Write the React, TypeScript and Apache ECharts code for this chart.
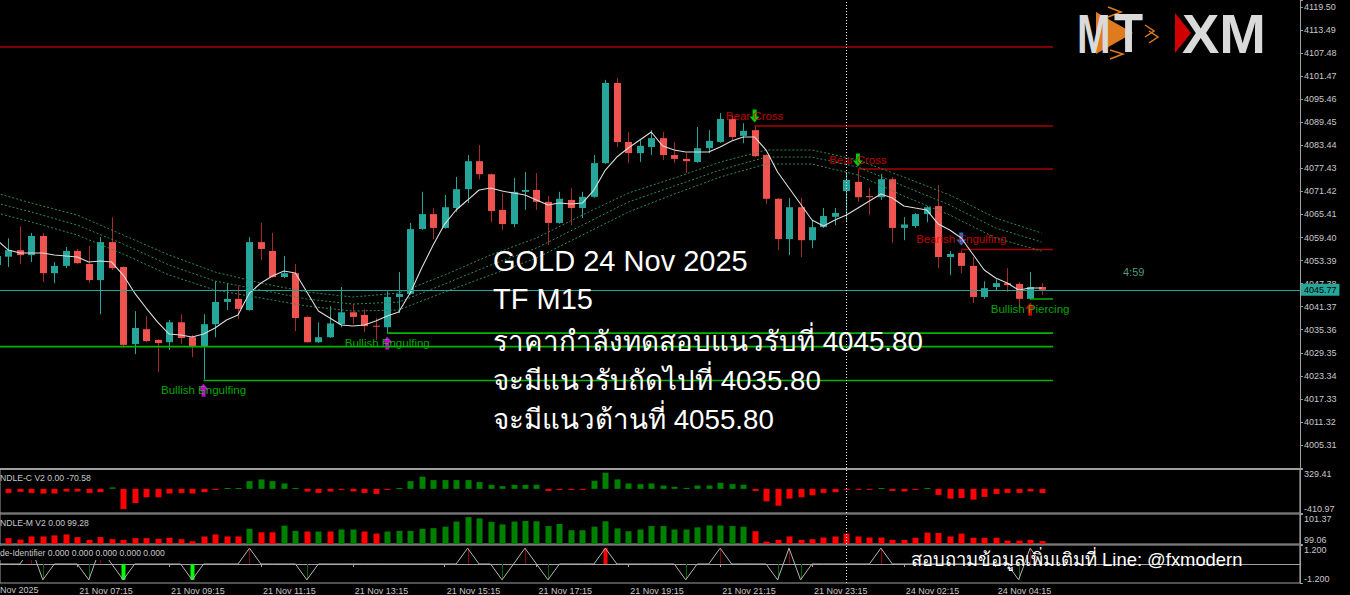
import { useEffect, useRef } from 'react';
import * as echarts from 'echarts';

// ---------------- data ----------------
// slot s = n + 2, where n = candle index (n = 6 -> 21 Nov 07:15)
const xTickN = [6, 14, 22, 30, 38, 46, 54, 62, 70, 78, 86];
const xTickText = ['21 Nov 07:15', '21 Nov 09:15', '21 Nov 11:15', '21 Nov 13:15', '21 Nov 15:15',
  '21 Nov 17:15', '21 Nov 19:15', '21 Nov 21:15', '21 Nov 23:15', '24 Nov 02:15', '24 Nov 04:15'];
const firstDateLabel = '21 Nov 2025';

// candles n = -1 .. 90
const opens = [4052.2, 4054.4, 4056.1, 4054.8, 4059.8, 4050.1, 4052.0, 4055.9, 4052.5, 4048.3, 4058.2, 4051.7, 4031.6, 4035.5, 4032.7, 4032.1, 4037.3, 4033.4, 4031.1, 4036.8, 4042.6, 4043.4, 4040.5, 4058.2, 4055.9, 4049.1, 4050.1, 4038.7, 4032.1, 4033.4, 4036.8, 4039.9, 4039.2, 4036.4, 4036.0, 4043.9, 4044.7, 4061.6, 4065.5, 4061.9, 4067.1, 4072.0, 4079.3, 4075.9, 4066.6, 4062.9, 4071.3, 4071.8, 4068.7, 4063.2, 4069.2, 4067.1, 4070.0, 4078.8, 4099.7, 4084.3, 4081.4, 4083.0, 4085.3, 4080.9, 4079.9, 4079.1, 4082.7, 4084.3, 4090.3, 4085.9, 4087.4, 4080.9, 4069.5, 4059.0, 4067.3, 4058.7, 4062.1, 4064.8, 4071.5, 4073.9, 4070.2, 4069.9, 4074.6, 4061.9, 4062.4, 4065.5, 4067.6, 4054.3, 4055.4, 4052.0, 4043.9, 4046.5, 4047.5, 4047.3, 4043.4, 4046.5];
const highs = [4056.0, 4059.2, 4062.3, 4060.6, 4060.6, 4053.0, 4056.9, 4056.4, 4057.2, 4059.5, 4064.7, 4051.9, 4040.2, 4038.9, 4032.9, 4037.9, 4039.4, 4034.0, 4039.4, 4048.0, 4047.5, 4046.7, 4059.5, 4063.2, 4060.6, 4054.6, 4052.5, 4038.9, 4037.3, 4041.5, 4046.5, 4042.0, 4040.7, 4038.4, 4045.4, 4050.4, 4063.2, 4071.3, 4067.1, 4070.5, 4075.2, 4080.9, 4083.5, 4076.1, 4071.0, 4074.9, 4076.5, 4076.2, 4070.2, 4071.3, 4072.3, 4071.3, 4080.9, 4100.5, 4101.0, 4086.9, 4084.8, 4087.4, 4086.9, 4084.3, 4081.4, 4088.2, 4087.4, 4091.9, 4091.3, 4089.2, 4088.7, 4081.1, 4069.7, 4069.7, 4069.7, 4064.0, 4067.1, 4067.1, 4076.5, 4077.2, 4072.3, 4076.0, 4075.2, 4064.7, 4065.8, 4067.6, 4073.1, 4055.9, 4056.1, 4054.3, 4048.0, 4048.5, 4051.4, 4047.8, 4050.4, 4047.5];
const lows = [4051.0, 4051.7, 4052.5, 4053.0, 4047.8, 4047.5, 4051.4, 4052.5, 4047.5, 4039.4, 4050.9, 4030.6, 4029.0, 4032.1, 4024.3, 4030.1, 4031.6, 4028.2, 4022.4, 4033.4, 4040.5, 4038.1, 4040.3, 4053.5, 4048.9, 4048.8, 4035.0, 4032.0, 4031.9, 4033.2, 4036.0, 4036.8, 4034.7, 4032.7, 4034.5, 4039.7, 4044.5, 4061.4, 4059.0, 4061.7, 4066.1, 4068.4, 4074.6, 4063.4, 4061.3, 4062.1, 4066.6, 4066.6, 4057.4, 4063.0, 4062.6, 4064.5, 4069.8, 4078.6, 4083.0, 4078.8, 4079.1, 4080.9, 4079.6, 4078.8, 4076.2, 4078.9, 4081.4, 4084.1, 4084.8, 4084.0, 4080.4, 4068.1, 4056.1, 4054.8, 4054.3, 4056.6, 4061.9, 4062.6, 4063.4, 4068.7, 4065.3, 4069.2, 4058.0, 4058.7, 4061.9, 4063.4, 4051.4, 4049.6, 4050.1, 4042.3, 4043.4, 4045.7, 4045.2, 4041.3, 4043.1, 4044.4];
const closes = [4054.6, 4056.1, 4054.8, 4059.8, 4050.1, 4052.0, 4055.9, 4052.7, 4048.3, 4058.2, 4051.4, 4031.4, 4035.8, 4032.4, 4031.9, 4037.3, 4033.2, 4031.1, 4036.8, 4042.6, 4043.4, 4040.8, 4058.2, 4056.4, 4049.1, 4050.1, 4038.4, 4032.1, 4033.4, 4037.0, 4039.9, 4038.7, 4036.3, 4036.2, 4043.9, 4044.7, 4061.6, 4065.5, 4061.9, 4067.3, 4072.0, 4079.3, 4075.9, 4066.3, 4062.9, 4071.3, 4071.8, 4068.7, 4063.2, 4069.5, 4067.1, 4070.0, 4078.8, 4099.7, 4084.3, 4081.4, 4083.3, 4085.3, 4080.9, 4079.9, 4079.3, 4082.7, 4084.6, 4090.3, 4085.6, 4087.2, 4080.6, 4069.5, 4059.0, 4067.3, 4058.7, 4062.1, 4065.0, 4065.8, 4074.4, 4069.9, 4069.9, 4074.6, 4061.9, 4062.8, 4065.5, 4067.3, 4054.3, 4055.1, 4052.0, 4043.9, 4046.2, 4047.5, 4047.0, 4043.4, 4046.5, 4045.77];

// fast MA (white) n = -2 .. 90
const maFast = [4060.05, 4058.74, 4056.13, 4055.35, 4055.35, 4055.35, 4054.83, 4054.57, 4054.31, 4053.01, 4053.27, 4053.01, 4049.62, 4044.92, 4041.01, 4037.36, 4034.23, 4033.97, 4033.45, 4034.23, 4035.80, 4037.88, 4039.19, 4044.92, 4047.53, 4049.36, 4050.66, 4050.14, 4045.18, 4040.23, 4038.40, 4036.57, 4036.32, 4036.57, 4037.62, 4038.92, 4039.97, 4044.92, 4051.44, 4057.44, 4062.91, 4066.57, 4069.17, 4071.78, 4072.30, 4071.52, 4070.99, 4070.47, 4069.17, 4067.87, 4068.39, 4068.13, 4068.39, 4071.78, 4076.99, 4080.38, 4082.73, 4084.82, 4086.91, 4083.25, 4082.21, 4081.69, 4081.69, 4081.69, 4082.99, 4084.56, 4085.60, 4085.60, 4082.21, 4076.48, 4072.30, 4068.13, 4063.96, 4062.39, 4063.96, 4065.26, 4067.08, 4068.91, 4070.73, 4069.69, 4067.61, 4067.08, 4066.56, 4062.91, 4061.35, 4059.26, 4055.09, 4050.92, 4048.83, 4047.53, 4045.70, 4046.22, 4046.22];

// dotted envelope lines, read at these candle indices
const maDotN = [-2, 2, 6, 10, 14, 18, 22, 26, 30, 34, 38, 42, 46, 50, 54, 58, 62, 66, 70, 74, 78, 82, 86, 90];
const maDotUpper = [4071.78, 4068.39, 4065.26, 4060.05, 4054.83, 4050.40, 4047.53, 4045.18, 4043.88, 4044.92, 4049.62, 4054.83, 4059.27, 4065.26, 4070.99, 4074.90, 4079.08, 4082.21, 4082.21, 4079.60, 4075.16, 4070.47, 4064.48, 4060.57];
const maDotMid = [4069.17, 4066.04, 4062.65, 4057.70, 4052.22, 4048.05, 4045.70, 4043.35, 4042.05, 4042.57, 4047.27, 4052.22, 4056.66, 4062.65, 4068.65, 4072.81, 4076.99, 4080.38, 4080.38, 4077.78, 4072.81, 4067.87, 4061.87, 4058.23];
const maDotLower = [4066.56, 4063.44, 4060.05, 4055.10, 4049.62, 4045.70, 4043.62, 4041.53, 4040.22, 4040.49, 4045.18, 4049.62, 4054.05, 4060.05, 4066.04, 4070.73, 4075.16, 4078.56, 4078.56, 4075.69, 4070.21, 4065.26, 4059.27, 4055.88];

const resistanceStartN = [-2, 65, 74, 83];
const resistancePrice = [4109.07, 4088.47, 4077.25, 4056.26];
const supportStartN = [-2, 17, 33, 89];
const supportPrice = [4030.96, 4022.10, 4034.48, 4043.35];
const levelEndN = 91;
const lastPrice = 4045.77;
const separatorN = 73;

const patternN = [17, 33, 65, 74, 83, 89];
const patternText = ['Bullish Engulfing', 'Bullish Engulfing', 'Bear Cross', 'Bear Cross', 'Bearish Engulfing', 'Bullish Piercing'];
const patternPrice = [4019.6, 4031.9, 4091.1, 4079.6, 4059.0, 4040.7];
const patternTextColor = ['#00d400', '#00d400', '#f00000', '#f00000', '#f00000', '#00d400'];
const patternArrowUp = [true, true, false, false, false, true];
const patternArrowColor = ['#ff00ff', '#ff00ff', '#00ff00', '#00ff00', '#1e90ff', '#ff0000'];

// CANDLE-C V2, n = 0 .. 90
const candleC = [-69, -50, -69, -80, -80, -45, -45, -69, -57, 25, -344, -241, -143, -143, -80, -69, -80, -57, -15, 15, 15, 132, 161, 132, 92, 15, -45, -69, -45, -15, -45, -69, -86, -15, 15, 132, 206, 149, 149, 149, 149, 115, 69, 46, 69, 69, 69, -35, -15, -15, -15, 138, 275, 161, 92, 80, 92, 57, 35, 15, 57, 57, 103, 80, 69, -35, -212, -287, -166, -143, -109, -69, -57, -15, -15, -15, 15, -35, -45, -15, 15, -103, -166, -155, -183, -137, -86, -69, -69, -45, -70.58];
// CANDLE-M V2, n = 0 .. 90
const candleM = [99.51, 99.40, 99.64, 99.64, 99.72, 99.80, 99.59, 99.38, 99.59, 99.43, 99.38, 99.51, 99.51, 99.46, 99.54, 99.43, 99.27, 99.64, 99.80, 99.64, 99.64, 100.23, 99.96, 99.96, 100.47, 100.07, 100.02, 100.02, 100.02, 100.18, 100.18, 100.02, 99.86, 100.02, 100.07, 100.07, 100.23, 100.28, 100.39, 100.79, 101.13, 101.03, 100.76, 100.57, 100.79, 100.84, 100.81, 100.44, 100.60, 100.12, 100.12, 100.39, 100.81, 100.26, 100.04, 100.18, 100.44, 100.44, 100.18, 100.18, 100.34, 100.49, 100.49, 100.44, 100.39, 100.04, 99.24, 99.38, 99.64, 99.38, 99.43, 99.56, 99.64, 99.86, 99.64, 99.56, 99.56, 99.38, 99.38, 99.54, 99.94, 99.91, 99.64, 99.86, 99.54, 99.54, 99.54, 99.32, 99.32, 99.38, 99.28];
const candleMUp = 'rrrrrrrrrrrrrrrrrrrrrgrrggrgrggrrggggggggggggggggggggggggggggggggrrrrrrrrrrrrrrrrrrrrrrrrr';
// Candle-Identifier, n = -2 .. 90
const identLine = [0, 0, 0, 0, 1, -1, 0, 0, 0, -1, 1, 0, -1, 0, 0, 0, 0, 0, -1, 0, 0, 0, 0, 1, 0, 0, 0, 0, -1, 0, 0, 0, 0, 0, 0, 0, 0, 0, 0, 0, 0, 0, 1, 0, 0, -1, 0, 1, 0, -1, 0, 0, 0, 0, 1, 0, 0, 0, 0, 0, 0, -1, 0, 0, 1, 0, 0, 0, 0, -1, 1, -1, 0, 0, 0, 0, 0, 0, 1, 0, 0, 0, 0, 0, 0, 0, 0, 0, 0, 0, -1, 1, 0];
const identStrongN = [10, 16, 52];

const YMAIN_MIN = 3999.30, YMAIN_MAX = 4121.33, YMAIN_STEP = 6.01;
const P1_MIN = -410.97, P1_MAX = 329.41;
const P2_MIN = 99.06, P2_MAX = 101.37;
const P3_MIN = -1.2, P3_MAX = 1.2;
// visible slot range (slot = n + 2)
const XMIN = 1.2683, XMAX = 114.5;

const S = (n: number) => n + 2;

const FONT = '"Liberation Sans", Arial, "Noto Sans", sans-serif';
const AXIS_TXT = '#c8c8c8';
const AXIS_LINE = '#a0a0a0';
const BULL = '#26a69a';
const BEAR = '#ef5350';
const BEAR_WICK = '#a52a2a';

export default function App() {
  const ref = useRef<HTMLDivElement>(null);
  useEffect(() => {
    if (!ref.current) return;
    const chart = echarts.init(ref.current, null, { renderer: 'svg' });

    const candleData = opens.map((o, i) => [S(i - 1), o, closes[i], lows[i], highs[i]]);
    const vSep = { xAxis: S(separatorN), lineStyle: { color: '#ffffff', type: [1, 2], width: 1 }, label: { show: false } };

    const xAxisBase = (gridIndex: number) => ({
      type: 'value', gridIndex, min: XMIN, max: XMAX,
      axisLine: { show: false }, axisTick: { show: false }, axisLabel: { show: false }, splitLine: { show: false },
    });
    const tickSlots = xTickN.map(S);

    const panelY = (gridIndex: number, min: number, max: number, dec: number) => ({
      type: 'value', gridIndex, position: 'right', min, max, interval: max - min,
      axisLine: { show: true, lineStyle: { color: AXIS_LINE } },
      axisTick: { show: true, length: 3, lineStyle: { color: AXIS_LINE } },
      splitLine: { show: false },
      axisLabel: {
        color: AXIS_TXT, fontSize: 9, fontFamily: FONT, margin: 4,
        formatter: (v: number) => v.toFixed(dec),
        verticalAlignMinLabel: 'bottom', verticalAlignMaxLabel: 'top',
      },
    });

    const levelSeries = (startN: number[], price: number[], color: string) =>
      startN.map((sn, i) => ({
        type: 'line', xAxisIndex: 0, yAxisIndex: 0, symbol: 'none', silent: true,
        lineStyle: { color, width: 1.6 },
        data: [[S(sn), price[i]], [S(levelEndN), price[i]]],
      }));

    const dotted = (vals: number[]) => ({
      type: 'line', xAxisIndex: 0, yAxisIndex: 0, symbol: 'none', silent: true,
      lineStyle: { color: '#2e8b57', width: 1, type: [2, 2] },
      data: maDotN.map((n, i) => [S(n), vals[i]]),
    });

    const grid = (top: number, height: number, border: boolean) => ({
      left: 0, right: 50.1, top, height, show: border, borderColor: AXIS_LINE, borderWidth: 1,
    });

    const option: any = {
      animation: false,
      backgroundColor: '#000000',
      grid: [grid(0, 468, false), grid(469.5, 43.5, true), grid(514, 30, true), grid(545, 39, true)],
      xAxis: [
        { ...xAxisBase(0), axisLine: { show: true, lineStyle: { color: AXIS_LINE } } },
        xAxisBase(1),
        xAxisBase(2),
        {
          ...xAxisBase(3),
          axisLine: { show: true, lineStyle: { color: AXIS_LINE } },
          axisTick: { show: true, length: 3, customValues: tickSlots, lineStyle: { color: AXIS_LINE } },
          axisLabel: {
            show: true, customValues: tickSlots, align: 'left', margin: 3, padding: [0, 0, 0, 2],
            color: AXIS_TXT, fontSize: 9, fontFamily: FONT, hideOverlap: false,
            formatter: (v: number) => { const k = tickSlots.indexOf(Math.round(v)); return k >= 0 ? xTickText[k] : ''; },
          },
        },
      ],
      yAxis: [
        {
          type: 'value', gridIndex: 0, position: 'right', min: YMAIN_MIN, max: YMAIN_MAX, interval: YMAIN_STEP,
          axisLine: { show: true, lineStyle: { color: AXIS_LINE } },
          axisTick: { show: true, length: 3, lineStyle: { color: AXIS_LINE } },
          splitLine: { show: false },
          axisLabel: {
            color: AXIS_TXT, fontSize: 9, fontFamily: FONT, margin: 4,
            formatter: (v: number) => (v < 4000 || v > 4120 ? '' : v.toFixed(2)),
          },
        },
        panelY(1, P1_MIN, P1_MAX, 2),
        panelY(2, P2_MIN, P2_MAX, 2),
        panelY(3, P3_MIN, P3_MAX, 3),
      ],
      series: [
        ...levelSeries(resistanceStartN, resistancePrice, '#a80000'),
        ...levelSeries(supportStartN, supportPrice, '#00b400'),
        dotted(maDotUpper), dotted(maDotMid), dotted(maDotLower),
        {
          type: 'custom', xAxisIndex: 0, yAxisIndex: 0, data: candleData, encode: { x: 0, y: [1, 2, 3, 4] },
          renderItem: (_p: any, api: any) => {
            const s = api.value(0), o = api.value(1), c = api.value(2), l = api.value(3), h = api.value(4);
            const [x, yo] = api.coord([s, o]);
            const yc = api.coord([s, c])[1], yl = api.coord([s, l])[1], yh = api.coord([s, h])[1];
            const bull = c >= o;
            const r = Math.round(x);
            return {
              type: 'group', children: [
                { type: 'line', shape: { x1: r + 0.5, y1: yh, x2: r + 0.5, y2: yl }, style: { stroke: bull ? BULL : BEAR_WICK, lineWidth: 1 } },
                { type: 'rect', shape: { x: r - 3, y: Math.min(yo, yc), width: 7, height: Math.max(1, Math.abs(yo - yc)) }, style: { fill: bull ? BULL : BEAR } },
              ],
            };
          },
          markLine: {
            silent: true, symbol: ['none', 'none'],
            data: [
              {
                yAxis: lastPrice, lineStyle: { color: '#26a69a', width: 1, type: 'solid' },
                label: { show: true, position: 'end', distance: 1, formatter: lastPrice.toFixed(2), backgroundColor: '#26a69a', color: '#000', fontSize: 9, fontFamily: FONT, padding: [2, 3, 1, 3] },
              },
              vSep,
            ],
          },
        },
        {
          type: 'line', xAxisIndex: 0, yAxisIndex: 0, symbol: 'none', silent: true,
          lineStyle: { color: '#dcdcdc', width: 1.1 },
          data: maFast.map((v, i) => [i, v]),
        },
        {
          type: 'scatter', xAxisIndex: 0, yAxisIndex: 0, symbol: 'circle', symbolSize: 2, silent: true,
          itemStyle: { color: 'rgba(0,0,0,0)' },
          data: patternN.map((n, i) => ({
            value: [S(n), patternPrice[i]],
            label: { show: true, position: 'inside', formatter: patternText[i], color: patternTextColor[i], fontSize: 11.5, fontFamily: FONT },
          })),
        },
        {
          type: 'scatter', xAxisIndex: 0, yAxisIndex: 0, symbolSize: [10, 13], silent: true,
          data: patternN.map((n, i) => ({
            value: [S(n), patternPrice[i]],
            symbol: patternArrowUp[i] ? 'path://M5 0 L10 6 L7 6 L7 13 L3 13 L3 6 L0 6 Z' : 'path://M3 0 L7 0 L7 7 L10 7 L5 13 L0 7 L3 7 Z',
            itemStyle: { color: patternArrowColor[i] },
          })),
        },
        // panel 1
        {
          type: 'custom', xAxisIndex: 1, yAxisIndex: 1, data: candleC.map((v, i) => [S(i), v]), encode: { x: 0, y: 1 },
          renderItem: (_p: any, api: any) => {
            const s = api.value(0), v = api.value(1);
            const [x, y1] = api.coord([s, v]);
            const y0 = api.coord([s, 0])[1];
            const r = Math.round(x);
            return { type: 'rect', shape: { x: r - 2.5, y: Math.min(y0, y1), width: 6, height: Math.max(1, Math.abs(y1 - y0)) }, style: { fill: v >= 0 ? '#008000' : '#ff0000' } };
          },
          markLine: { silent: true, symbol: ['none', 'none'], data: [vSep] },
        },
        // panel 2
        {
          type: 'custom', xAxisIndex: 2, yAxisIndex: 2, data: candleM.map((v, i) => [S(i), v, candleMUp[i] === 'g' ? 1 : 0]), encode: { x: 0, y: 1 },
          renderItem: (_p: any, api: any) => {
            const s = api.value(0), v = api.value(1), up = api.value(2);
            const [x, y1] = api.coord([s, v]);
            const y0 = api.coord([s, P2_MIN])[1];
            const r = Math.round(x);
            return { type: 'rect', shape: { x: r - 2.5, y: y1, width: 6, height: Math.max(1, y0 - y1) }, style: { fill: up ? '#008000' : '#ff0000' } };
          },
          markLine: { silent: true, symbol: ['none', 'none'], data: [vSep] },
        },
        // panel 3
        {
          type: 'custom', xAxisIndex: 3, yAxisIndex: 3,
          data: identLine.map((v, i) => [i, v, identStrongN.indexOf(i - 2) >= 0 ? 1 : 0]).filter((d) => d[1] !== 0),
          encode: { x: 0, y: 1 },
          renderItem: (_p: any, api: any) => {
            const s = api.value(0), v = api.value(1), strong = api.value(2);
            const [x, y1] = api.coord([s, v]);
            const y0 = api.coord([s, 0])[1];
            const r = Math.round(x);
            const w = strong ? 4 : 1;
            const col = v > 0 ? (strong ? '#ff0000' : '#8b0000') : (strong ? '#00ff00' : '#006400');
            return { type: 'rect', shape: { x: r + 0.5 - w / 2, y: Math.min(y0, y1), width: w, height: Math.abs(y1 - y0) }, style: { fill: col } };
          },
          markLine: { silent: true, symbol: ['none', 'none'], data: [vSep] },
        },
        {
          type: 'line', xAxisIndex: 3, yAxisIndex: 3, symbol: 'none', silent: true,
          lineStyle: { color: '#b4b4b4', width: 1 },
          data: identLine.map((v, i) => [i, v]),
        },
      ],
      graphic: [
        // overlay texts
        ...['GOLD 24 Nov 2025', 'TF M15', 'ราคากำลังทดสอบแนวรับที่ 4045.80', 'จะมีแนวรับถัดไปที่ 4035.80', 'จะมีแนวต้านที่ 4055.80'].map((t, i) => ({
          type: 'text', z: 100, x: 493, y: [261, 299, 341, 380, 419][i],
          style: { text: t, fill: '#ffffff', font: `${i < 2 ? 29 : 27.7}px ${FONT}`, textVerticalAlign: 'middle' },
        })),
        { type: 'text', z: 100, x: 911, y: 559, style: { text: 'สอบถามข้อมูลเพิ่มเติมที่ Line: @fxmodern', fill: '#ffffff', font: `18.4px ${FONT}`, textVerticalAlign: 'middle' } },
        { type: 'text', z: 100, x: 1123, y: 272, style: { text: '4:59', fill: '#4d9e73', font: `11px ${FONT}`, textVerticalAlign: 'middle' } },
        { type: 'text', z: 100, x: 0, y: 478, style: { text: 'NDLE-C V2 0.00 -70.58', fill: AXIS_TXT, font: `8.6px ${FONT}`, textVerticalAlign: 'middle' } },
        { type: 'text', z: 100, x: 0, y: 523, style: { text: 'NDLE-M V2 0.00 99.28', fill: AXIS_TXT, font: `8.6px ${FONT}`, textVerticalAlign: 'middle' } },
        { type: 'text', z: 100, x: 0, y: 553, style: { text: 'de-Identifier 0.000 0.000 0.000 0.000 0.000', fill: AXIS_TXT, font: `8.6px ${FONT}`, textVerticalAlign: 'middle', backgroundColor: '#000', padding: [4, 2, 1, 0] } },
        { type: 'text', z: 100, x: -12.5, y: 590, style: { text: firstDateLabel, fill: AXIS_TXT, font: `9px ${FONT}`, textVerticalAlign: 'middle' } },
        // logo
        { type: 'polygon', z: 100, shape: { points: [[1096, 12], [1133, 33], [1096, 54]] }, style: { fill: '#e07a1f' } },
        { type: 'polyline', z: 100, shape: { points: [[1108, 7], [1121, 12], [1108, 17]] }, style: { stroke: '#e07a1f', lineWidth: 1.5, fill: 'none' } },
        { type: 'polyline', z: 100, shape: { points: [[1110, 50], [1123, 54], [1110, 59]] }, style: { stroke: '#e07a1f', lineWidth: 1.5, fill: 'none' } },
        { type: 'polyline', z: 100, shape: { points: [[1145, 25], [1154, 31], [1145, 37]] }, style: { stroke: '#e07a1f', lineWidth: 1.5, fill: 'none' } },
        { type: 'polyline', z: 100, shape: { points: [[1149, 31], [1158, 37], [1149, 43]] }, style: { stroke: '#e07a1f', lineWidth: 1.5, fill: 'none' } },
        { type: 'text', z: 101, x: 1077, y: 33, scaleX: 0.72, style: { text: 'M', fill: '#dadada', font: `bold 56px ${FONT}`, textVerticalAlign: 'middle' } },
        { type: 'text', z: 101, x: 1114, y: 33, scaleX: 0.85, style: { text: 'T', fill: '#dadada', font: `bold 56px ${FONT}`, textVerticalAlign: 'middle' } },
        { type: 'polygon', z: 100, shape: { points: [[1175, 13], [1191, 33], [1175, 53]] }, style: { fill: '#d10000' } },
        { type: 'text', z: 101, x: 1182, y: 33, style: { text: 'XM', fill: '#dadada', font: `bold 56px ${FONT}`, textVerticalAlign: 'middle' } },
      ],
    };

    chart.setOption(option);
    return () => chart.dispose();
  }, []);

  return <div ref={ref} style={{ position: 'fixed', left: 0, top: 0, width: 1350, height: 595, background: '#000' }} />;
}
